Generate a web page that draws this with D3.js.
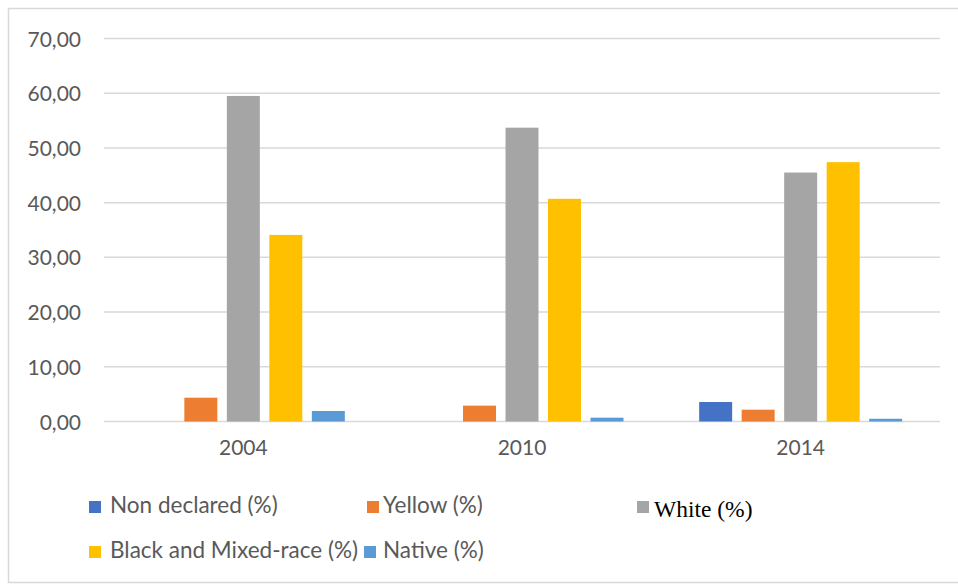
<!DOCTYPE html>
<html lang="en">
<head>
    <meta charset="UTF-8">
    <title>Population by colour or race</title>
    <style>
        body {
            margin: 0;
            background: #fff;
        }
        svg text {
            font-family: Lato, "Open Sans", sans-serif;
            fill: #595959;
        }
        .grid line {
            stroke: #d9d9d9;
            stroke-width: 1.5;
        }
    </style>
</head>
<body>
    <svg id="chart" width="958" height="584"></svg>
    <script src="https://d3js.org/d3.v7.min.js"></script>
    <script>
        // data
        const years = ["2004", "2010", "2014"];
        const series = ["Non declared (%)", "Yellow (%)", "White (%)", "Black and Mixed-race (%)", "Native (%)"];
        const nonDeclared = [0, 0, 3.56];
        const yellow = [4.35, 2.9, 2.16];
        const white = [59.5, 53.7, 45.5];
        const blackMixed = [34.1, 40.7, 47.4];
        const native = [1.92, 0.7, 0.5];
        const yTicks = [0, 10, 20, 30, 40, 50, 60, 70];

        const colors = ["#4472c4", "#ed7d31", "#a5a5a5", "#ffc000", "#5b9bd5"];
        const values = [nonDeclared, yellow, white, blackMixed, native];

        const width = 958;
        const height = 584;
        const margin = { top: 38.5, right: 18, bottom: 162.5, left: 104 };

        const svg = d3.select("#chart");

        // outer frame, like the pasted chart area
        svg.append("rect")
            .attr("x", 8.5)
            .attr("y", 8.5)
            .attr("width", 960)
            .attr("height", 574)
            .attr("fill", "none")
            .attr("stroke", "#d9d9d9")
            .attr("stroke-width", 1.5);

        const x0 = d3.scaleBand()
            .domain(years)
            .range([margin.left, width - margin.right])
            .paddingInner(0.2716)
            .paddingOuter(0.1358);

        const x1 = d3.scaleBand()
            .domain(series)
            .range([0, x0.bandwidth()])
            .paddingInner(0.224);

        const y = d3.scaleLinear()
            .domain([0, 70])
            .range([height - margin.bottom, margin.top]);

        const comma = d3.formatLocale({ decimal: ",", thousands: ".", grouping: [3], currency: ["", ""] });
        const fmt = comma.format(".2f");

        // horizontal gridlines
        svg.append("g")
            .attr("class", "grid")
            .selectAll("line")
            .data(yTicks)
            .join("line")
            .attr("x1", margin.left)
            .attr("x2", width - margin.right)
            .attr("y1", d => y(d))
            .attr("y2", d => y(d));

        // y axis labels
        const yAxis = d3.axisLeft(y).tickValues(yTicks).tickFormat(fmt).tickSize(0).tickPadding(23);
        svg.append("g")
            .attr("transform", `translate(${margin.left},0)`)
            .call(yAxis)
            .call(g => g.select(".domain").remove())
            .call(g => g.selectAll("text")
                .attr("fill", "#595959")
                .attr("font-family", "Lato, sans-serif")
                .attr("font-size", 21)
                .attr("dy", "0.36em"));

        // x axis labels
        const xAxis = d3.axisBottom(x0).tickSize(0).tickPadding(23);
        svg.append("g")
            .attr("transform", `translate(0,${y(0)})`)
            .call(xAxis)
            .call(g => g.select(".domain").remove())
            .call(g => g.selectAll("text")
                .attr("fill", "#595959")
                .attr("font-family", "Lato, sans-serif")
                .attr("font-size", 21)
                .attr("dy", "0.5em"));

        // bars
        const rows = [];
        years.forEach((yr, i) => {
            series.forEach((s, j) => rows.push({ year: yr, key: s, idx: j, value: values[j][i] }));
        });

        svg.append("g")
            .selectAll("rect")
            .data(rows.filter(d => d.value > 0))
            .join("rect")
            .attr("x", d => x0(d.year) + x1(d.key))
            .attr("y", d => y(d.value))
            .attr("width", x1.bandwidth())
            .attr("height", d => y(0) - y(d.value))
            .attr("fill", d => colors[d.idx]);

        // legend (two rows, the white entry came out in a serif face)
        const legendPos = [[89, 501], [367, 501], [637, 501], [89, 546], [364, 546]];
        const legendGap = [21, 16, 17, 21, 19];
        const legend = svg.append("g")
            .selectAll("g")
            .data(series)
            .join("g")
            .attr("transform", (d, i) => `translate(${legendPos[i][0]},${legendPos[i][1]})`);

        legend.append("rect")
            .attr("width", 12)
            .attr("height", 12)
            .attr("fill", (d, i) => colors[i]);

        legend.append("text")
            .attr("x", (d, i) => legendGap[i])
            .attr("y", (d, i) => i === 2 ? 15.5 : 11.5)
            .attr("font-size", (d, i) => i === 2 ? 23.5 : 22.5)
            .style("font-family", (d, i) => i === 2 ? "'Liberation Serif', serif" : null)
            .style("fill", (d, i) => i === 2 ? "#000" : null)
            .text(d => d);
    </script>
</body>
</html>
